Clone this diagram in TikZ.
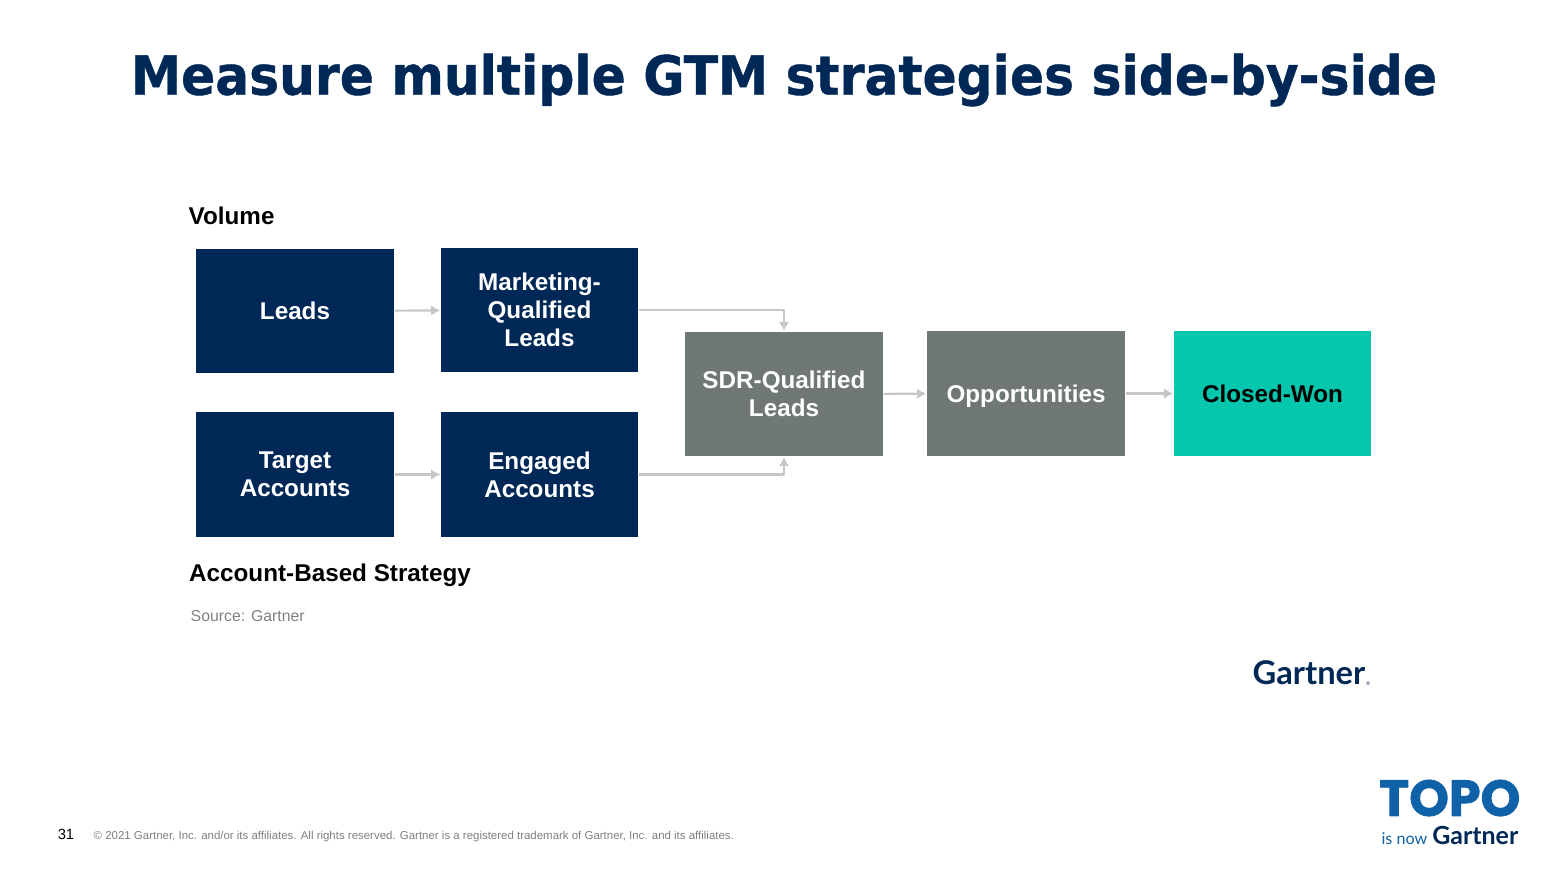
\documentclass[tikz,border=0pt]{standalone}
\usepackage{fontspec}
\setmainfont{Liberation Sans}
\newfontfamily\titlefont[FakeStretch=0.93,BoldFeatures={FakeStretch=0.93,FakeBold=0.8}]{DejaVu Sans}
\newfontfamily\logofont[BoldFeatures={FakeBold=1.6}]{Poppins}
\newfontfamily\wordfont{Lato}
\usetikzlibrary{arrows.meta}
\definecolor{navybox}{HTML}{002856}
\definecolor{greybox}{HTML}{6F7777}
\definecolor{tealbox}{HTML}{05C7AE}
\definecolor{linkgrey}{HTML}{C6C8C8}
\definecolor{topoblue}{HTML}{0F62A8}
\tikzset{
  box/.style={minimum width=1.98cm, minimum height=1.245cm, inner sep=0pt, align=center,
    font=\fontsize{6.9pt}{8pt}\selectfont\bfseries, text=white},
  navy/.style={box, fill=navybox},
  grey/.style={box, fill=greybox},
  link/.style={draw=linkgrey, line width=0.6pt, -{Latex[length=2.6pt,width=3pt]}},
  heading/.style={anchor=west, inner sep=0pt, font=\fontsize{6.9pt}{8pt}\selectfont\bfseries, text=black}
}
\begin{document}
\begin{tikzpicture}[line join = round]
    \useasboundingbox (0,0) rectangle (15.68,-8.82);

    % title
    \node [inner sep=0pt, text=navybox, font=\titlefont\fontsize{15.4pt}{18pt}\selectfont\bfseries] (title) at (7.84,-0.80) {Measure multiple GTM strategies side-by-side};

    % top row
    \node [navy] (leads) at (2.95,-3.11) {Leads};
    \node [navy, minimum width=1.97cm] (mql) at (5.395,-3.10) {Marketing-\\Qualified\\Leads};

    % bottom row
    \node [navy] (target) at (2.95,-4.745) {Target\\Accounts};
    \node [navy, minimum width=1.97cm] (engaged) at (5.395,-4.745) {Engaged\\Accounts};

    % shared part
    \node [grey] (sdr) at (7.84,-3.94) {SDR-Qualified\\Leads};
    \node [grey, text depth=0pt] (opp) at (10.26,-3.935) {Opportunities};
    \node [box, fill=tealbox, text=black, minimum width=1.97cm] (won) at (12.725,-3.935) {Closed-Won};

    \draw [link] (leads) -- (mql);
    \draw [link] (target) -- (engaged);
    \draw [link] (mql.east) -| (sdr.north);
    \draw [link] (engaged.east) -| (sdr.south);
    \draw [link] (sdr) -- (opp);
    \draw [link] (opp) -- (won);

    % labels
    \node [heading] (volume) at (1.88,-2.16) {Volume};
    \node [heading] (abs) at (1.885,-5.755) {Account-Based Strategy};
    \node [anchor=west, inner sep=0pt, text=gray, font=\fontsize{4.5pt}{6pt}\selectfont] (source) at (1.90,-6.165) {Source: Gartner};

    % logos
    \node [anchor=east, inner sep=0pt, text=navybox, font=\wordfont\fontsize{9.3pt}{11pt}\selectfont\bfseries] (gartner) at (13.66,-6.73) {Gartner};
    \node [anchor=south west, inner sep=0pt, text=navybox, font=\wordfont\fontsize{1.4pt}{2pt}\selectfont] (regmark) at (13.655,-6.86) {\textregistered};
    \node [anchor=east, inner sep=0pt, text=topoblue, font=\logofont\fontsize{14.4pt}{16pt}\selectfont\bfseries] (topo) at (15.21,-7.98) {TOPO};
    \node [anchor=east, inner sep=0pt, text=navybox, font=\wordfont\fontsize{7.1pt}{8pt}\selectfont\bfseries] (gartnersmall) at (15.19,-8.35) {Gartner};
    \node [anchor=east, inner sep=0pt, text=topoblue, font=\wordfont\fontsize{4.6pt}{5pt}\selectfont] (isnow) at (14.28,-8.39) {is now};

    % footer
    \node [inner sep=0pt, font=\fontsize{4.2pt}{5pt}\selectfont] (page) at (0.66,-8.34) {31};
    \node [anchor=west, inner sep=0pt, text=gray, font=\fontsize{3.26pt}{4pt}\selectfont] (copy) at (0.93,-8.365) {\textcopyright{} 2021 Gartner, Inc. and/or its affiliates. All rights reserved. Gartner is a registered trademark of Gartner, Inc. and its affiliates.};
\end{tikzpicture}
\end{document}
